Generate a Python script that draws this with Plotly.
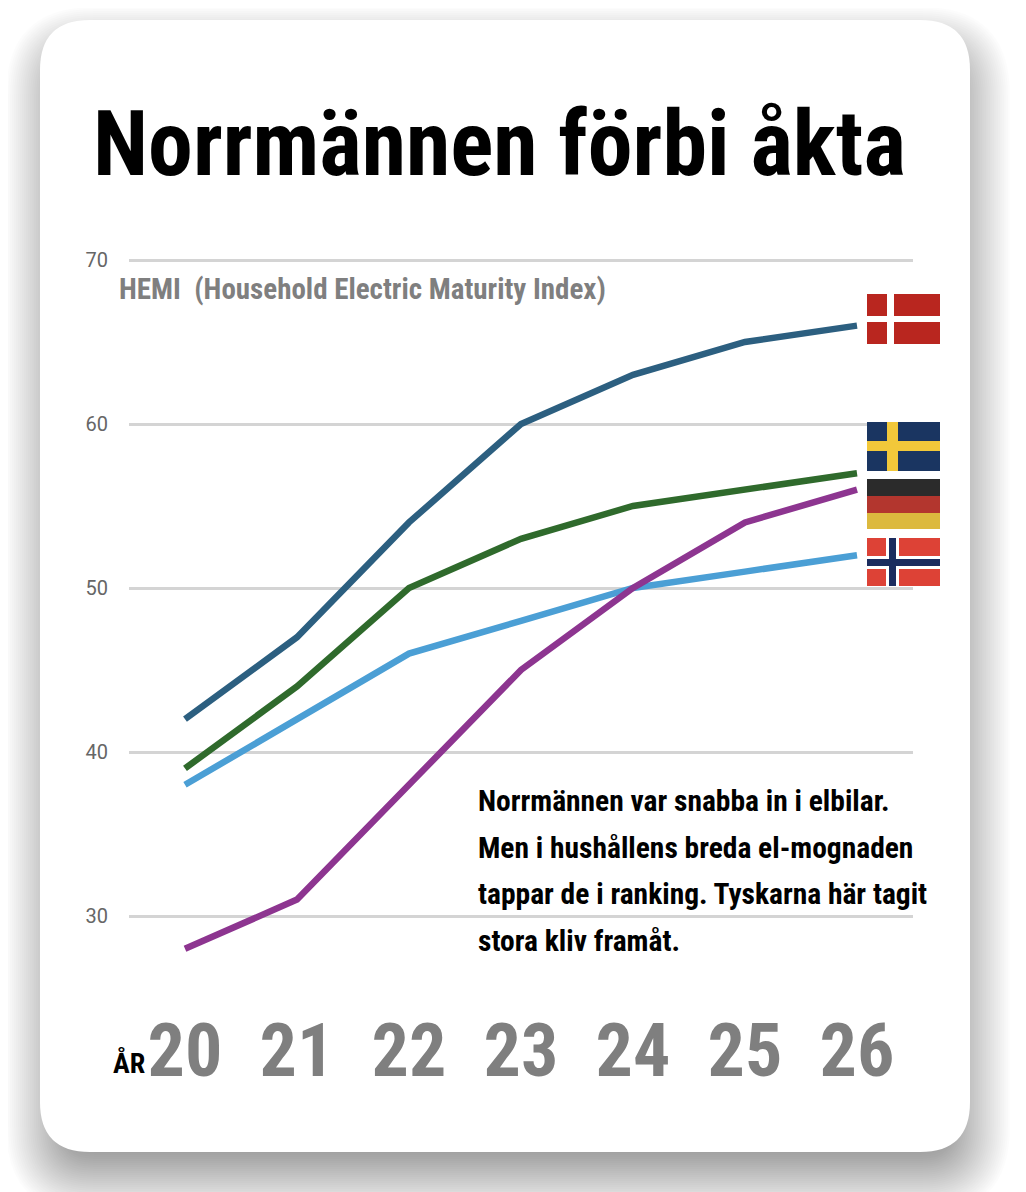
import plotly.graph_objects as go

W, H = 1026, 1192
OFF = 8  # page body margin around the figure
FW, FH = W - OFF, H - OFF

years = [20, 21, 22, 23, 24, 25, 26]
year_labels = ["20", "21", "22", "23", "24", "25", "26"]
y_ticks = [30, 40, 50, 60, 70]

denmark = [42, 47, 54, 60, 63, 65, 66]
sweden = [39, 44, 50, 53, 55, 56, 57]
norway = [38, 42, 46, 48, 50, 51, 52]
germany = [28, 31, 38, 45, 50, 54, 56]

note_lines = ["Norrmännen var snabba in i elbilar.",
              "Men i hushållens breda el-mognaden",
              "tappar de i ranking. Tyskarna här tagit",
              "stora kliv framåt."]

COND = "Roboto Condensed, Liberation Sans Narrow, DejaVu Sans Condensed, Roboto, sans-serif"
GRAY = "#7f7f7f"


def px(x):
    return (x - OFF) / FW


def py(y):
    return 1 - (y - OFF) / FH


def rounded(x0, y0, x1, y1, r):
    # rounded rectangle path in paper coords, input in page pixels
    P = lambda x, y: f"{px(x):.5f},{py(y):.5f}"
    return (f"M{P(x0 + r, y0)} L{P(x1 - r, y0)} Q{P(x1, y0)} {P(x1, y0 + r)} "
            f"L{P(x1, y1 - r)} Q{P(x1, y1)} {P(x1 - r, y1)} "
            f"L{P(x0 + r, y1)} Q{P(x0, y1)} {P(x0, y1 - r)} "
            f"L{P(x0, y0 + r)} Q{P(x0, y0)} {P(x0 + r, y0)} Z")


def box(x0, y0, x1, y1, color, layer="above"):
    return dict(type="rect", xref="paper", yref="paper", layer=layer,
                x0=px(x0), x1=px(x1), y0=py(y1), y1=py(y0),
                fillcolor=color, line=dict(width=0))


shapes = []

# soft card shadow: stacked rounded rects from shrunk to grown, shifted down
for i in range(40):
    s = -40 + i * 2.0
    shapes.append(dict(type="path", xref="paper", yref="paper", layer="below",
                       path=rounded(44 - s, 45 - s, 972 + s, 1177 + s, max(50 + s, 4)),
                       fillcolor="rgba(30,30,30,0.012)", line=dict(width=0)))
# card
shapes.append(dict(type="path", xref="paper", yref="paper", layer="below",
                   path=rounded(40, 20, 970, 1152, 50),
                   fillcolor="white", line=dict(width=0)))

# flags
fx0, fx1 = 867, 940
# Denmark
shapes += [box(fx0, 294, fx1, 344, "#b9261f"),
           box(fx0 + 20, 294, fx0 + 27, 344, "white"),
           box(fx0, 316, fx1, 322, "white")]
# Sweden
shapes += [box(fx0, 422, fx1, 471, "#1a3561"),
           box(fx0 + 20, 422, fx0 + 31, 471, "#f2c83a"),
           box(fx0, 441, fx1, 451, "#f2c83a")]
# Germany
shapes += [box(fx0, 479, fx1, 496, "#2b2b2b"),
           box(fx0, 496, fx1, 513, "#b3362e"),
           box(fx0, 513, fx1, 529, "#dcb93e")]
# Norway
shapes += [box(fx0, 538, fx1, 586, "#dd4236"),
           box(fx0 + 19, 538, fx0 + 32, 586, "white"),
           box(fx0, 556, fx1, 569, "white"),
           box(fx0 + 22, 538, fx0 + 29, 586, "#1b2c5e"),
           box(fx0, 559, fx1, 566, "#1b2c5e")]

fig = go.Figure()
for vals, color in [(denmark, "#2c5f80"), (sweden, "#2f6a2c"),
                    (norway, "#4b9fd5"), (germany, "#8d3590")]:
    fig.add_trace(go.Scatter(x=years, y=vals, mode="lines",
                             line=dict(color=color, width=6.5),
                             hoverinfo="skip", showlegend=False))

annotations = [
    dict(text="<b>Norrmännen förbi åkta</b>", xref="paper", yref="paper",
         x=px(499), y=py(144), xanchor="center", yanchor="middle", showarrow=False,
         font=dict(family=COND, size=90, color="black")),
    dict(text="<b>HEMI  (Household Electric Maturity Index)</b>", xref="paper", yref="paper",
         x=px(117), y=py(289), xanchor="left", yanchor="middle", showarrow=False,
         font=dict(family=COND, size=29, color=GRAY)),
    dict(text="<b>ÅR</b>", xref="paper", yref="paper",
         x=px(147), y=py(1063), xanchor="right", yanchor="middle", showarrow=False,
         font=dict(family=COND, size=28, color="black")),
]
for i, line in enumerate(note_lines):
    annotations.append(dict(text=f"<b>{line}</b>", xref="paper", yref="paper",
                            x=px(476), y=py(801 + i * 46.7), xanchor="left", yanchor="middle",
                            showarrow=False, font=dict(family=COND, size=29.5, color="black")))

fig.update_layout(
    width=FW, height=FH,
    margin=dict(l=0, r=0, t=0, b=0),
    template="none",
    paper_bgcolor="white",
    plot_bgcolor="rgba(0,0,0,0)",
    shapes=shapes,
    annotations=annotations,
    xaxis=dict(domain=[px(129), px(913)], range=[19.5, 26.5],
               tickvals=years, ticktext=year_labels,
               tickfont=dict(family=COND, size=74, color=GRAY, weight="bold"),
               ticks="outside", ticklen=5, tickcolor="rgba(0,0,0,0)",
               showgrid=False, zeroline=False, showline=False),
    yaxis=dict(domain=[py(981.6), py(227.2)], range=[26, 72],
               tickvals=y_ticks,
               tickfont=dict(family="Roboto, sans-serif", size=20, color="#666666"),
               ticks="outside", ticklen=16, tickcolor="rgba(0,0,0,0)",
               showgrid=True, gridcolor="#d4d4d4", gridwidth=3,
               zeroline=False, showline=False),
)

fig.write_html("out.html")
